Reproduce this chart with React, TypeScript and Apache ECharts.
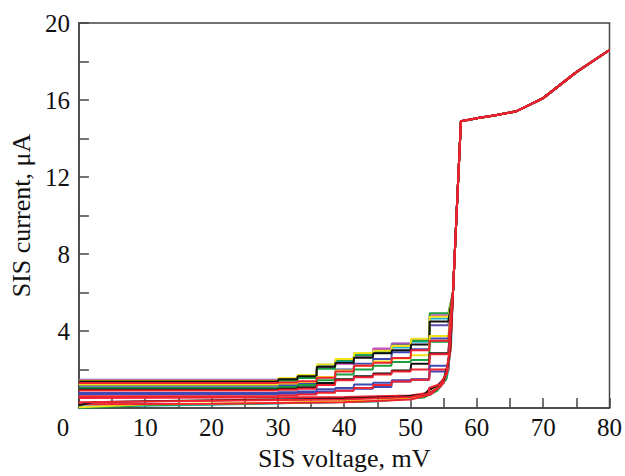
import React, { useEffect, useRef } from "react";
import * as echarts from "echarts";

// Voltages (mV) where each photon step of the pumped curves ends
const stepVoltages = [30.0, 32.9, 35.8, 38.6, 41.4, 44.3, 47.1, 50.0, 52.8, 55.7];

// Plateau currents (µA) of each pumped curve, one per step interval
const pumpedPurple = [1.47, 1.5, 1.62, 2.2, 2.45, 2.84, 3.05, 3.35, 3.55, 4.3];
const pumpedYellowTop = [1.42, 1.55, 1.72, 2.27, 2.55, 2.86, 2.98, 3.22, 3.6, 4.75];
const pumpedMagenta = [1.45, 1.5, 1.6, 2.12, 2.3, 2.7, 3.1, 3.32, 3.5, 4.82];
const pumpedCyan = [1.36, 1.46, 1.6, 2.25, 2.42, 2.8, 2.95, 3.15, 3.45, 4.65];
const pumpedGreenTop = [1.32, 1.42, 1.56, 2.05, 2.5, 2.75, 2.9, 3.25, 3.5, 4.93];
const pumpedBlackTop = [1.38, 1.5, 1.65, 2.15, 2.35, 2.62, 2.85, 3.0, 3.3, 4.5];
const pumpedRedMid = [1.3, 1.33, 1.4, 1.58, 1.9, 2.2, 2.35, 2.6, 3.0, 3.5];
const pumpedYellowMid = [1.22, 1.28, 1.36, 1.62, 1.95, 2.2, 2.42, 2.58, 2.75, 3.75];
const pumpedBlueMid = [1.16, 1.2, 1.28, 1.6, 2.0, 2.3, 2.55, 2.9, 3.05, 3.62];
const pumpedGreenMid = [1.04, 1.1, 1.2, 1.45, 1.75, 2.0, 2.2, 2.4, 2.5, 3.45];
const pumpedBlackMid = [0.97, 1.0, 1.08, 1.3, 1.5, 1.65, 1.8, 1.95, 2.3, 2.85];
const pumpedRedLow = [0.91, 0.95, 1.0, 1.2, 1.45, 1.6, 1.75, 1.9, 2.0, 2.8];
const pumpedBlueLow = [0.79, 0.82, 0.86, 0.98, 1.05, 1.22, 1.32, 1.45, 1.5, 2.2];
const pumpedBlueLow2 = [0.72, 0.75, 0.78, 0.86, 0.92, 1.0, 1.1, 1.38, 1.47, 1.9];
const pumpedRedLow2 = [0.62, 0.65, 0.7, 0.8, 0.9, 1.05, 1.2, 1.38, 1.47, 2.0];

// Weakly pumped / unpumped curves: [voltage mV, current µA]
const weakBlack = [[0, 0.15], [2, 0.3], [10, 0.36], [30, 0.45], [40, 0.5], [48, 0.58], [52, 0.7], [52.8, 0.95], [54, 1.15], [55, 1.5], [55.6, 2.2], [56.0, 3.2]];
const weakRed = [[0, 0.3], [20, 0.38], [40, 0.45], [50, 0.58], [52.7, 0.75], [52.8, 1.05], [54.5, 1.25], [55.4, 1.8], [55.9, 3.0]];
const weakYellow = [[0, 0.05], [10, 0.2], [30, 0.28], [45, 0.4], [52, 0.62], [52.8, 0.95], [54.5, 1.2], [55.5, 1.9], [56.0, 3.1]];
const weakGreen = [[0, 0.0], [10, 0.15], [30, 0.25], [45, 0.36], [52, 0.55], [54, 0.9], [55.4, 1.5], [56.0, 3.0]];
const weakRed2 = [[0, 0.2], [20, 0.22], [40, 0.3], [50, 0.45], [53, 0.7], [55, 1.3], [56.0, 3.0]];
const weakCyan = [[0, 0.08], [20, 0.18], [45, 0.35], [53, 0.7], [55.5, 1.6], [56.1, 3.2]];
const weakRed3 = [[0, 0.53], [25, 0.55], [40, 0.58], [50, 0.65], [52.8, 0.8], [54.5, 1.1], [55.5, 1.8], [56.0, 3.0]];

// Common part above the gap voltage, shared by all curves
const commonBranch = [[56.4, 6.0], [57.0, 10.5], [57.6, 14.9], [60, 15.05], [63, 15.22], [66, 15.42], [70, 16.1], [75, 17.45], [80, 18.6]];

const xTicks = [0, 10, 20, 30, 40, 50, 60, 70, 80];
const yTicks = [4, 8, 12, 16, 20];

const C = {
  blue: "#3f48b5",
  purple: "#5b4db5",
  red: "#ee2230",
  black: "#111111",
  green: "#18a040",
  yellow: "#f2e21c",
  cyan: "#1cb3d6",
  magenta: "#d24cc8",
};

function stepCurve(levels: number[]): number[][] {
  const pts: number[][] = [[0, levels[0]]];
  for (let k = 0; k < stepVoltages.length; k++) {
    pts.push([stepVoltages[k], levels[k]]);
    if (k < stepVoltages.length - 1) pts.push([stepVoltages[k] + 0.1, levels[k + 1]]);
  }
  return pts.concat(commonBranch);
}

function weakCurve(pts: number[][]): number[][] {
  return pts.concat(commonBranch);
}

const curves: { color: string; data: number[][] }[] = [
  { color: C.purple, data: stepCurve(pumpedPurple) },
  { color: C.magenta, data: stepCurve(pumpedMagenta) },
  { color: C.cyan, data: stepCurve(pumpedCyan) },
  { color: C.blue, data: stepCurve(pumpedBlueMid) },
  { color: C.green, data: stepCurve(pumpedGreenTop) },
  { color: C.yellow, data: stepCurve(pumpedYellowTop) },
  { color: C.black, data: stepCurve(pumpedBlackTop) },
  { color: C.yellow, data: stepCurve(pumpedYellowMid) },
  { color: C.green, data: stepCurve(pumpedGreenMid) },
  { color: C.black, data: stepCurve(pumpedBlackMid) },
  { color: C.red, data: stepCurve(pumpedRedLow) },
  { color: C.blue, data: stepCurve(pumpedBlueLow) },
  { color: C.blue, data: stepCurve(pumpedBlueLow2) },
  { color: C.red, data: stepCurve(pumpedRedLow2) },
  { color: C.cyan, data: weakCurve(weakCyan) },
  { color: C.green, data: weakCurve(weakGreen) },
  { color: C.yellow, data: weakCurve(weakYellow) },
  { color: C.red, data: weakCurve(weakRed2) },
  { color: C.red, data: weakCurve(weakRed3) },
  { color: C.black, data: weakCurve(weakBlack) },
  { color: C.red, data: weakCurve(weakRed) },
  { color: C.red, data: stepCurve(pumpedRedMid) },
];

const FONT = "'Liberation Serif', 'DejaVu Serif', serif";

export default function App() {
  const ref = useRef<HTMLDivElement>(null);
  useEffect(() => {
    if (!ref.current) return;
    const chart = echarts.init(ref.current, null, { renderer: "svg" });
    chart.setOption({
      animation: false,
      backgroundColor: "#ffffff",
      grid: {
        left: 71,
        right: 13,
        top: 23,
        bottom: 64,
        show: true,
        borderColor: "#444",
        borderWidth: 1.5,
        backgroundColor: "transparent",
      },
      xAxis: {
        type: "value",
        min: xTicks[0],
        max: xTicks[xTicks.length - 1],
        interval: 10,
        name: "SIS voltage, mV",
        nameLocation: "middle",
        nameGap: 32,
        nameTextStyle: { fontFamily: FONT, fontSize: 26, color: "#111" },
        axisLine: { show: true, lineStyle: { color: "#444", width: 1.5 } },
        axisTick: { show: true, inside: true, length: 10, lineStyle: { color: "#444", width: 1.5 } },
        minorTick: { show: true, splitNumber: 2, length: 10, lineStyle: { color: "#444", width: 1.5 } },
        splitLine: { show: false },
        axisLabel: {
          margin: 7,
          fontFamily: FONT,
          fontSize: 25,
          color: "#111",
          formatter: (v: number) => (v === 0 ? "{z|0}" : String(v)),
          rich: { z: { fontFamily: FONT, fontSize: 25, color: "#111", padding: [0, 32, 0, 0] } },
        },
      },
      yAxis: {
        type: "value",
        min: 0,
        max: yTicks[yTicks.length - 1],
        interval: 4,
        name: "SIS current, μA",
        nameLocation: "middle",
        nameGap: 40,
        nameTextStyle: { fontFamily: FONT, fontSize: 26, color: "#111" },
        axisLine: { show: true, lineStyle: { color: "#444", width: 1.5 } },
        axisTick: { show: true, inside: true, length: 10, lineStyle: { color: "#444", width: 1.5 } },
        minorTick: { show: true, splitNumber: 2, length: 10, lineStyle: { color: "#444", width: 1.5 } },
        splitLine: { show: false },
        axisLabel: {
          margin: 9,
          fontFamily: FONT,
          fontSize: 25,
          color: "#111",
          formatter: (v: number) => (yTicks.includes(v) ? String(v) : ""),
        },
      },
      series: curves.map((c) => ({
        type: "line",
        data: c.data,
        showSymbol: false,
        symbol: "none",
        silent: true,
        lineStyle: { color: c.color, width: 2 },
        itemStyle: { color: c.color },
      })),
    });
    return () => chart.dispose();
  }, []);
  return (
    <div
      ref={ref}
      style={{ position: "absolute", left: 0, top: 0, width: 625, height: 476 }}
    />
  );
}
